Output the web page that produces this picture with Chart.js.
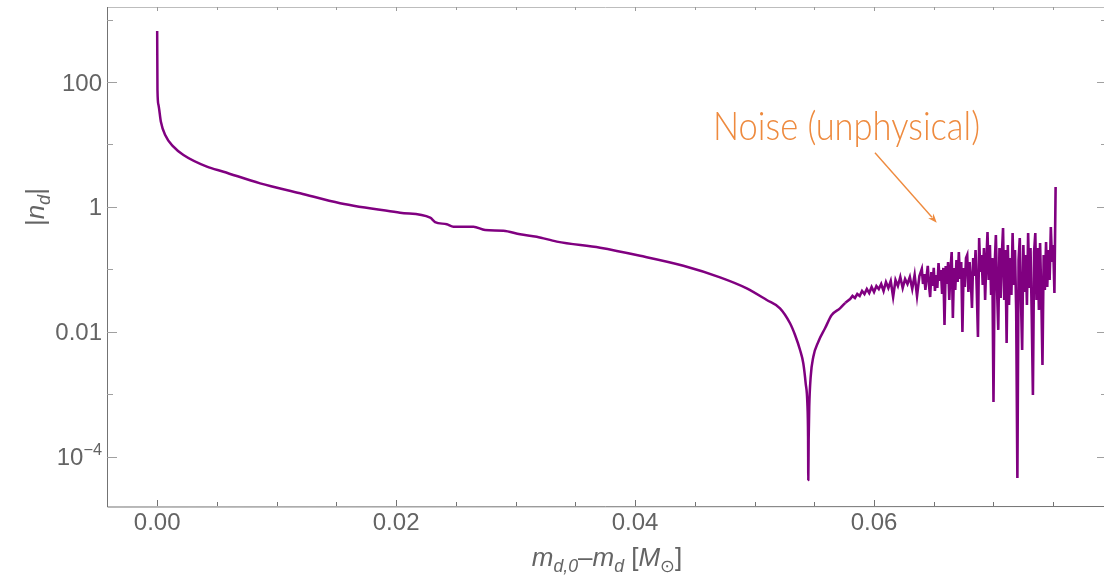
<!DOCTYPE html>
<html><head><meta charset="utf-8">
<script src="https://cdn.jsdelivr.net/npm/chart.js@4.4.1/dist/chart.umd.min.js"></script>
<style>html,body{margin:0;padding:0;background:#fff}canvas{display:block}</style>
</head><body>
<canvas id="c" width="1104" height="576"></canvas>
<script>
// ---- data ----
const smoothX = [0, 0.000025, 0.00011, 0.00031, 0.00067, 0.00136, 0.0022, 0.00416, 0.00555, 0.00862,
  0.01197, 0.01531, 0.02033, 0.02285, 0.02326, 0.02424, 0.0248, 0.02647, 0.02745, 0.02898,
  0.03038, 0.03177, 0.03345, 0.03707, 0.04042, 0.04404, 0.04711, 0.04935, 0.05102,
  0.05213, 0.05297, 0.05339, 0.05381, 0.05408, 0.05428, 0.05442, 0.05448, 0.0545, 0.05453,
  0.05458, 0.0547, 0.05492, 0.05534, 0.0559, 0.05646, 0.05715, 0.0576];
const smoothY = [655, 74, 42.9, 23.2, 14.2, 9.23, 6.79, 4.42, 3.67, 2.39,
  1.66, 1.15, 0.811, 0.674, 0.575, 0.529, 0.484, 0.484, 0.428, 0.418,
  0.366, 0.335, 0.279, 0.223, 0.166, 0.115, 0.075, 0.050, 0.0325,
  0.0239, 0.0138, 0.00895, 0.00515, 0.00316, 0.00151, 0.000723, 0.000211, 0.0000428, 0.000187,
  0.000638, 0.00193, 0.00403, 0.0070, 0.01146, 0.0187, 0.0239, 0.0293];

const noiseX = [0.0580, 0.0582, 0.0584, 0.0586, 0.0588, 0.0590, 0.0592, 0.0594, 0.0596, 0.0598,
  0.0600, 0.0602, 0.0604, 0.0606, 0.0608, 0.0610, 0.0612, 0.0614, 0.0616, 0.0618,
  0.0620, 0.0622, 0.0624, 0.0626, 0.0628, 0.0630, 0.0632, 0.0634, 0.0636, 0.0638,
  0.0640, 0.0641, 0.0642, 0.0643, 0.0644, 0.0645, 0.0646, 0.0647, 0.0648, 0.0649,
  0.0650, 0.0651, 0.0652, 0.0653, 0.0654, 0.0655, 0.0656, 0.0657, 0.0658, 0.0659,
  0.0660, 0.0661, 0.0662, 0.0663, 0.0664, 0.0665, 0.0666, 0.0667, 0.0668, 0.0669,
  0.0670, 0.0671, 0.0672, 0.0673, 0.0674, 0.0675, 0.0676, 0.0677, 0.0678, 0.0679,
  0.0680, 0.0681, 0.0682, 0.0683, 0.0684, 0.0685, 0.0686, 0.0687, 0.0688, 0.0689,
  0.0690, 0.0691, 0.0692, 0.0693, 0.0694, 0.0695, 0.0696, 0.0697, 0.0698, 0.0699,
  0.0700, 0.0701, 0.0702, 0.0703, 0.0704, 0.0705, 0.0706, 0.0707, 0.0708, 0.0709,
  0.0710, 0.0711, 0.0712, 0.0713, 0.0714, 0.0715, 0.0716, 0.0717, 0.0718, 0.0719,
  0.0720, 0.0721, 0.0722, 0.0723, 0.0724, 0.0725, 0.0726, 0.0727, 0.0728, 0.0729,
  0.0730, 0.0731, 0.0732, 0.0733, 0.0734, 0.0735, 0.0736, 0.0737, 0.0738, 0.0739,
  0.0740, 0.0741, 0.0742, 0.0743, 0.0744, 0.0745, 0.0746, 0.0747, 0.0748, 0.0749,
  0.0750, 0.0751, 0.0752];
const noiseY = [0.0337, 0.0377, 0.035, 0.0406, 0.0377, 0.0453, 0.0406, 0.0488, 0.042, 0.0525,
  0.0437, 0.0545, 0.0488, 0.0586, 0.0453, 0.063, 0.0506, 0.0655, 0.0363, 0.0679,
  0.0545, 0.0759, 0.0506, 0.0705, 0.0586, 0.0759, 0.0488, 0.0817, 0.0377, 0.0787,
  0.102, 0.0586, 0.0847, 0.047, 0.0759, 0.114, 0.0565, 0.0363, 0.0912, 0.0545,
  0.106, 0.0453, 0.0817, 0.0506, 0.127, 0.0655, 0.098, 0.0406, 0.106, 0.0129,
  0.114, 0.0586, 0.132, 0.0325, 0.098, 0.19, 0.0167, 0.106, 0.047, 0.142,
  0.063, 0.19, 0.0705, 0.132, 0.01, 0.106, 0.0525, 0.153, 0.171, 0.0437,
  0.132, 0.0679, 0.0242, 0.153, 0.0787, 0.205, 0.047, 0.0083, 0.319, 0.0912,
  0.171, 0.0565, 0.221, 0.0325, 0.132, 0.398, 0.0679, 0.247, 0.0391, 0.153,
  0.00076, 0.118, 0.356, 0.047, 0.0108, 0.221, 0.035, 0.171, 0.461, 0.0325,
  0.205, 0.00667, 0.247, 0.027, 0.153, 0.0391, 0.384, 0.0565, 0.205, 0.0225,
  0.000046, 0.142, 0.319, 0.0325, 0.00515, 0.247, 0.0437, 0.171, 0.027, 0.384,
  0.0506, 0.221, 0.0187, 0.00098, 0.19, 0.384, 0.0325, 0.221, 0.0225, 0.265,
  0.0391, 0.00296, 0.171, 0.047, 0.275, 0.0525, 0.205, 0.0679, 0.479, 0.132,
  0.247, 0.042, 2.09];

const xTicks = [0, 0.02, 0.04, 0.06];
const xMinorTicks = [0.005, 0.01, 0.015, 0.025, 0.03, 0.035, 0.045, 0.05, 0.055, 0.065, 0.07, 0.075];
const yTicks = [1e-4, 0.01, 1, 100];
const yTickLabels = ['10^−4', '0.01', '1', '100'];
const yMinorTicks = [1e-3, 0.1, 10, 1000];
const xRange = [-0.0042, 0.07925];
const yRange = [1.644e-5, 1585];
const noteText = 'Noise (unphysical)';
const notePos = [0.04653, 11.8];
const arrowFrom = [0.06008, 7.39];
const arrowTo = [0.06525, 0.561];

// ---- chart ----
const FONT = "'Liberation Sans', Arial, 'DejaVu Sans', sans-serif";
const smoothPts = smoothX.map((x, i) => ({x, y: smoothY[i]}));
const noisePts = [smoothPts[smoothPts.length - 1]].concat(noiseX.map((x, i) => ({x, y: noiseY[i]})));

function drawRich(ctx, parts, x, y, size, align) {
  const fontFor = s => (s.includes('i') ? 'italic ' : '') + ((s.includes('sub') || s.includes('sup')) ? size * 0.68 : size) + 'px ' + FONT;
  let w = 0;
  parts.forEach(([t, s]) => { ctx.font = fontFor(s); w += ctx.measureText(t).width; });
  let cx = align === 'center' ? x - w / 2 : (align === 'right' ? x - w : x);
  ctx.textBaseline = 'alphabetic';
  ctx.textAlign = 'left';
  parts.forEach(([t, s]) => {
    ctx.font = fontFor(s);
    let dy = s.includes('sub') ? size * 0.24 : (s.includes('sup') ? -size * 0.42 : 0);
    ctx.fillText(t, cx, y + dy);
    cx += ctx.measureText(t).width;
  });
}

const decor = {
  id: 'decor',
  afterDraw(chart) {
    const {ctx, chartArea: a, scales: {x, y}} = chart;
    ctx.save();
    ctx.lineWidth = 1;
    // frame
    ctx.strokeStyle = '#bdbdbd';
    ctx.beginPath(); ctx.moveTo(a.left, a.top + 0.5); ctx.lineTo(a.right, a.top + 0.5); ctx.stroke();
    ctx.strokeStyle = '#737373';
    ctx.beginPath(); ctx.moveTo(a.left + 0.5, a.top); ctx.lineTo(a.left + 0.5, a.bottom + 1);
    ctx.lineTo(a.right, a.bottom + 0.5); ctx.stroke();
    // x ticks
    const xt = (v, lb, lt) => {
      const p = Math.round(x.getPixelForValue(v)) + 0.5;
      ctx.strokeStyle = '#737373';
      ctx.beginPath(); ctx.moveTo(p, a.bottom); ctx.lineTo(p, a.bottom - lb); ctx.stroke();
      ctx.strokeStyle = '#9a9a9a';
      ctx.beginPath(); ctx.moveTo(p, a.top); ctx.lineTo(p, a.top + lt); ctx.stroke();
    };
    xTicks.forEach(v => xt(v, 6, 4));
    xMinorTicks.forEach(v => xt(v, 4, 3));
    // y ticks
    const yt = (v, ll, lr) => {
      const p = Math.round(y.getPixelForValue(v)) + 0.5;
      ctx.strokeStyle = '#a0a0a0';
      ctx.beginPath(); ctx.moveTo(a.left, p); ctx.lineTo(a.left + ll, p); ctx.stroke();
      ctx.beginPath(); ctx.moveTo(a.right, p); ctx.lineTo(a.right - lr, p); ctx.stroke();
    };
    yTicks.forEach(v => yt(v, 10, 7));
    yMinorTicks.forEach(v => yt(v, 6, 3));
    // y tick labels
    ctx.fillStyle = '#646464';
    yTicks.forEach((v, i) => {
      const p = y.getPixelForValue(v);
      const lab = yTickLabels[i];
      if (lab.includes('^')) {
        const [b, e] = lab.split('^');
        drawRich(ctx, [[b, ''], [e, 'sup']], a.left - 5, p + 8.5, 24, 'right');
      } else {
        drawRich(ctx, [[lab, '']], a.left - 5, p + 8.5, 24, 'right');
      }
    });
    // axis titles
    ctx.fillStyle = '#646464';
    drawRich(ctx, [['m', 'i'], ['d,0', 'isub'], ['–', ''], ['m', 'i'], ['d', 'isub'], [' [', ''], ['M', 'i'], ['⊙', 'sub'], [']', '']], 607, 566, 26, 'center');
    ctx.save();
    ctx.translate(44, 207);
    ctx.rotate(-Math.PI / 2);
    drawRich(ctx, [['|', ''], ['n', 'i'], ['d', 'isub'], ['|', '']], 0, 0, 26, 'center');
    ctx.restore();
    // annotation
    const orange = '#EE8A3E';
    ctx.fillStyle = orange;
    ctx.strokeStyle = orange;
    ctx.font = "300 39px Lato, 'Open Sans', sans-serif";
    ctx.textBaseline = 'alphabetic';
    ctx.textAlign = 'left';
    const tw = ctx.measureText(noteText).width;
    const tx = x.getPixelForValue(notePos[0]), ty = y.getPixelForValue(notePos[1]);
    ctx.save();
    ctx.translate(tx, ty);
    ctx.scale(267 / tw, 1);
    ctx.fillText(noteText, 0, 0);
    ctx.restore();
    const x1 = x.getPixelForValue(arrowFrom[0]), y1 = y.getPixelForValue(arrowFrom[1]);
    const x2 = x.getPixelForValue(arrowTo[0]), y2 = y.getPixelForValue(arrowTo[1]);
    const ang = Math.atan2(y2 - y1, x2 - x1);
    const hl = 9, hw = 3.5;
    ctx.lineWidth = 1.4;
    ctx.beginPath(); ctx.moveTo(x1, y1);
    ctx.lineTo(x2 - hl * Math.cos(ang) * 0.8, y2 - hl * Math.sin(ang) * 0.8); ctx.stroke();
    ctx.beginPath();
    ctx.moveTo(x2, y2);
    ctx.lineTo(x2 - hl * Math.cos(ang) + hw * Math.sin(ang), y2 - hl * Math.sin(ang) - hw * Math.cos(ang));
    ctx.lineTo(x2 - hl * Math.cos(ang) * 0.7, y2 - hl * Math.sin(ang) * 0.7);
    ctx.lineTo(x2 - hl * Math.cos(ang) - hw * Math.sin(ang), y2 - hl * Math.sin(ang) + hw * Math.cos(ang));
    ctx.closePath(); ctx.fill();
    ctx.restore();
  }
};

new Chart(document.getElementById('c'), {
  type: 'line',
  data: {datasets: [{
    data: smoothPts, borderColor: '#800080', borderWidth: 2.5, pointRadius: 0,
    cubicInterpolationMode: 'monotone', fill: false, borderJoinStyle: 'round'
  }, {
    data: noisePts, borderColor: '#800080', borderWidth: 2.6, pointRadius: 0,
    tension: 0, fill: false, borderJoinStyle: 'miter'
  }]},
  options: {
    responsive: false, animation: false, devicePixelRatio: 1,
    layout: {padding: {top: 7, right: 0, left: 0, bottom: 0}},
    plugins: {legend: {display: false}, tooltip: {enabled: false}},
    scales: {
      x: {
        type: 'linear', min: xRange[0], max: xRange[1],
        grid: {display: false, drawTicks: false}, border: {display: false},
        afterBuildTicks: s => { s.ticks = xTicks.map(v => ({value: v})); },
        afterFit: s => { s.height = 70; },
        ticks: {
          callback: v => Number(v).toFixed(2), maxRotation: 0, autoSkip: false, padding: 3,
          color: '#646464', font: {family: FONT, size: 24}
        }
      },
      y: {
        type: 'logarithmic', min: yRange[0], max: yRange[1],
        grid: {display: false, drawTicks: false}, border: {display: false},
        ticks: {display: false},
        afterFit: s => { s.width = 107; }
      }
    }
  },
  plugins: [decor]
});
</script>
</body></html>
